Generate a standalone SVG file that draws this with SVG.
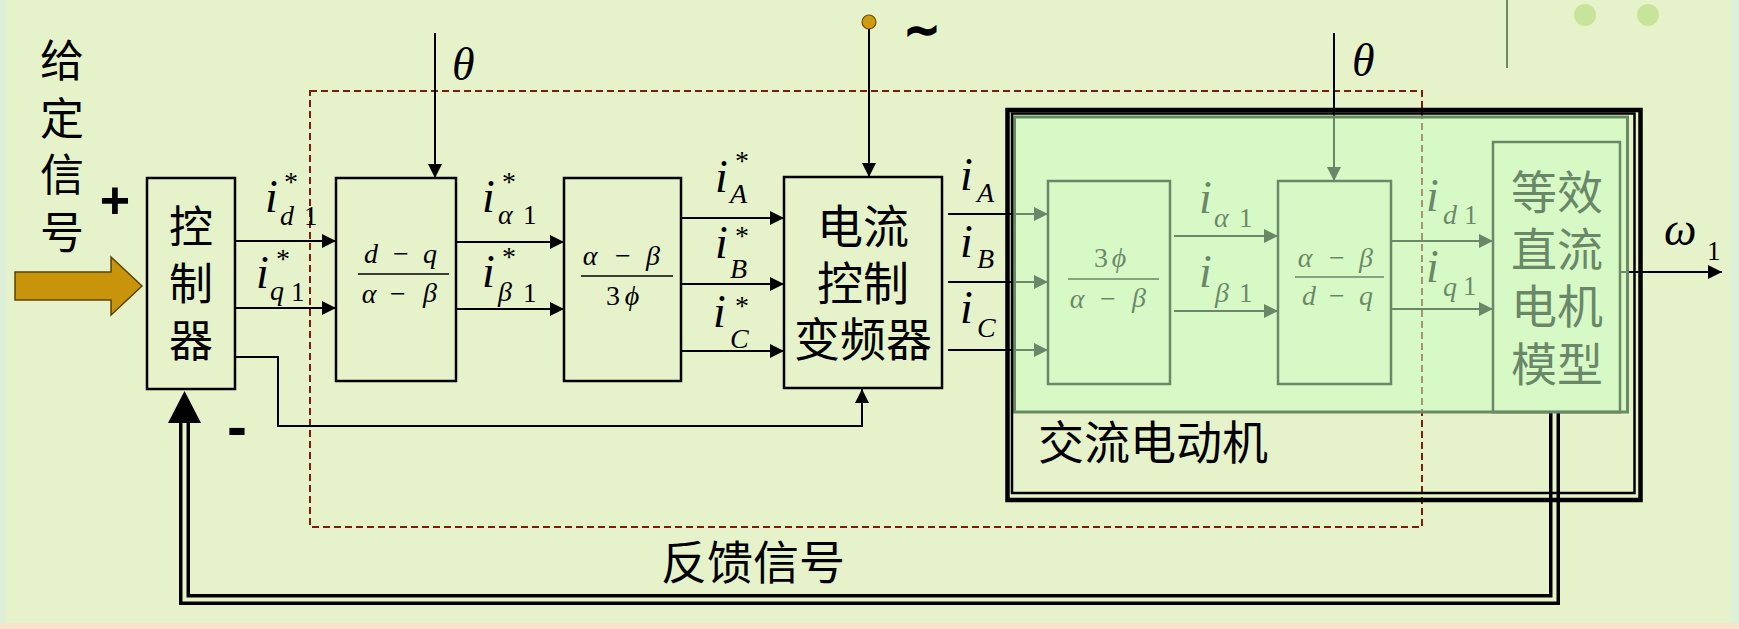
<svg xmlns="http://www.w3.org/2000/svg" width="1739" height="629" viewBox="0 0 1739 629">
<style>
.bx{fill:none;stroke:#000;stroke-width:2.5}
.ln{fill:none;stroke:#000;stroke-width:2}
.cj{font-family:"Liberation Sans","Noto Sans CJK SC","Noto Sans CJK JP",sans-serif;fill:#000}
.mi{font-family:"Liberation Serif","DejaVu Serif",serif;font-style:italic;font-size:46px;fill:#000}
.ms{font-family:"Liberation Serif","DejaVu Serif",serif;font-style:italic;font-size:28px;fill:#000}
.mn{font-family:"Liberation Serif","DejaVu Serif",serif;font-size:27px;fill:#000}
.ast{font-family:"Liberation Serif","DejaVu Serif",serif;font-size:28px;fill:#000}
.fr{font-family:"Liberation Serif","DejaVu Serif",serif;font-size:28px;fill:#000;text-anchor:middle}
.it{font-style:italic}
</style>
<defs>
<marker id="ah" markerUnits="userSpaceOnUse" markerWidth="15" markerHeight="15" refX="14" refY="7" orient="auto"><path d="M0,0 L14,7 L0,14 z" fill="#000"/></marker>
</defs>
<rect x="0" y="0" width="1739" height="629" fill="#E6F3CA"/>
<rect x="0" y="0" width="6" height="629" fill="#DDEFD8"/>
<rect x="1730" y="0" width="9" height="629" fill="#DCF1D6"/>
<rect x="0" y="623" width="1739" height="6" fill="#FAE3CC"/>
<line x1="1507" y1="0" x2="1507" y2="68" stroke="#6E8A60" stroke-width="2"/>
<circle cx="1585" cy="15" r="11" fill="#C9E49A"/>
<circle cx="1648" cy="15" r="11" fill="#C9E49A"/>

<rect x="310" y="91" width="1112" height="436" fill="none" stroke="#7A1F10" stroke-width="2" stroke-dasharray="7 4"/>

<g id="input">
<polygon points="15,272 111,272 111,257 142,286 111,315 111,300 15,300" fill="#C8950A" stroke="#5A4500" stroke-width="1.5"/>
<text class="cj" font-size="44" text-anchor="middle"><tspan x="62" y="77">给</tspan><tspan x="62" y="135">定</tspan><tspan x="62" y="191">信</tspan><tspan x="62" y="249">号</tspan></text>
<text x="115" y="218" font-family="Liberation Sans,sans-serif" font-weight="bold" font-size="52" text-anchor="middle">+</text>
<text x="237" y="447" font-family="Liberation Sans,sans-serif" font-weight="bold" font-size="60" text-anchor="middle">-</text>
</g>

<g id="controller">
<rect class="bx" x="147" y="178" width="88" height="211"/>
<text class="cj" font-size="44" text-anchor="middle"><tspan x="191" y="243">控</tspan><tspan x="191" y="300">制</tspan><tspan x="191" y="357">器</tspan></text>
</g>

<g id="dq2ab">
<rect class="bx" x="336" y="178" width="120" height="203"/>
<text class="fr it" x="371" y="263">d</text><text class="fr" x="401" y="263">−</text><text class="fr it" x="430" y="263">q</text>
<line x1="358" y1="274" x2="449" y2="274" stroke="#000" stroke-width="1.5"/>
<text class="fr it" x="369" y="303">α</text><text class="fr" x="398" y="303">−</text><text class="fr it" x="430" y="302">β</text>
</g>

<g id="ab23">
<rect class="bx" x="564" y="178" width="117" height="203"/>
<text class="fr it" x="590" y="265">α</text><text class="fr" x="623" y="265">−</text><text class="fr it" x="653" y="265">β</text>
<line x1="581" y1="276" x2="673" y2="276" stroke="#000" stroke-width="1.5"/>
<text class="fr" x="613" y="305">3</text><text class="fr it" x="632" y="305">ϕ</text>
</g>

<g id="inverter">
<rect class="bx" x="784" y="177" width="158" height="211"/>
<text class="cj" font-size="46" text-anchor="middle"><tspan x="863" y="243">电流</tspan><tspan x="863" y="300">控制</tspan><tspan x="863" y="356">变频器</tspan></text>
<circle cx="869" cy="22" r="7" fill="#D09A10" stroke="#6B5000" stroke-width="1.2"/>
<text x="922" y="45" font-family="DejaVu Sans,sans-serif" font-weight="bold" font-size="44" text-anchor="middle" stroke="#000" stroke-width="1.5">~</text>
</g>

<g id="motor-inner">
<rect x="1048" y="181" width="122" height="203" fill="none" stroke="#000" stroke-width="2.5"/>
<text class="fr" x="1101" y="267">3</text><text class="fr it" x="1119" y="267">ϕ</text>
<line x1="1068" y1="279" x2="1159" y2="279" stroke="#000" stroke-width="1.5"/>
<text class="fr it" x="1077" y="308">α</text><text class="fr" x="1108" y="308">−</text><text class="fr it" x="1139" y="307">β</text>
<rect x="1278" y="181" width="113" height="203" fill="none" stroke="#000" stroke-width="2.5"/>
<text class="fr it" x="1305" y="267">α</text><text class="fr" x="1337" y="267">−</text><text class="fr it" x="1366" y="267">β</text>
<line x1="1295" y1="277" x2="1384" y2="277" stroke="#000" stroke-width="1.5"/>
<text class="fr it" x="1309" y="305">d</text><text class="fr" x="1337" y="305">−</text><text class="fr it" x="1366" y="305">q</text>
<rect x="1493" y="142" width="127" height="270" fill="none" stroke="#000" stroke-width="2.5"/>
<text class="cj" font-size="46" text-anchor="middle"><tspan x="1557" y="209">等效</tspan><tspan x="1557" y="266">直流</tspan><tspan x="1557" y="323">电机</tspan><tspan x="1557" y="381">模型</tspan></text>
</g>

<g id="connectors">
<line class="ln" x1="235" y1="241" x2="336" y2="241" marker-end="url(#ah)"/>
<line class="ln" x1="235" y1="308" x2="336" y2="308" marker-end="url(#ah)"/>
<path class="ln" d="M235,357 H278 V426 H862 V389" marker-end="url(#ah)"/>
<line class="ln" x1="435" y1="33" x2="435" y2="178" marker-end="url(#ah)"/>
<line class="ln" x1="456" y1="242" x2="564" y2="242" marker-end="url(#ah)"/>
<line class="ln" x1="456" y1="309" x2="564" y2="309" marker-end="url(#ah)"/>
<line class="ln" x1="681" y1="218" x2="784" y2="218" marker-end="url(#ah)"/>
<line class="ln" x1="681" y1="284" x2="784" y2="284" marker-end="url(#ah)"/>
<line class="ln" x1="681" y1="351" x2="784" y2="351" marker-end="url(#ah)"/>
<line class="ln" x1="869" y1="29" x2="869" y2="177" marker-end="url(#ah)"/>
<line class="ln" x1="948" y1="214" x2="1048" y2="214" marker-end="url(#ah)"/>
<line class="ln" x1="948" y1="282" x2="1048" y2="282" marker-end="url(#ah)"/>
<line class="ln" x1="948" y1="350" x2="1048" y2="350" marker-end="url(#ah)"/>
<line class="ln" x1="1174" y1="236" x2="1278" y2="236" marker-end="url(#ah)"/>
<line class="ln" x1="1174" y1="311" x2="1278" y2="311" marker-end="url(#ah)"/>
<line class="ln" x1="1334" y1="33" x2="1334" y2="181" marker-end="url(#ah)"/>
<line class="ln" x1="1391" y1="241" x2="1493" y2="241" marker-end="url(#ah)"/>
<line class="ln" x1="1391" y1="309" x2="1493" y2="309" marker-end="url(#ah)"/>
<line class="ln" x1="1620" y1="272" x2="1722" y2="272" marker-end="url(#ah)"/>
<path d="M1554.5,413 V599.5 H184.5 V423" fill="none" stroke="#000" stroke-width="11"/>
<path d="M1554.5,413 V599.5 H184.5 V423" fill="none" stroke="#E6F3CA" stroke-width="4"/>
<polygon points="184.5,391 168,423 201,423" fill="#000"/>
</g>

<g id="labels">
<text class="mi" x="452" y="80" font-size="50">θ</text>
<text class="mi" x="1352" y="76" font-size="48">θ</text>
<text class="mi" x="265" y="212">i</text><text class="ast" x="291" y="191" text-anchor="middle">*</text><text class="ms" x="280" y="225">d</text><text class="mn" x="304" y="225">1</text>
<text class="mi" x="256" y="288">i</text><text class="ast" x="283" y="268" text-anchor="middle">*</text><text class="ms" x="270" y="300">q</text><text class="mn" x="291" y="301">1</text>
<text class="mi" x="482" y="212">i</text><text class="ast" x="509" y="191" text-anchor="middle">*</text><text class="ms" x="498" y="224">α</text><text class="mn" x="523" y="224">1</text>
<text class="mi" x="482" y="287">i</text><text class="ast" x="509" y="266" text-anchor="middle">*</text><text class="ms" x="498" y="301">β</text><text class="mn" x="523" y="302">1</text>
<text class="mi" x="715" y="192">i</text><text class="ast" x="742" y="170" text-anchor="middle">*</text><text class="ms" x="730" y="203">A</text>
<text class="mi" x="715" y="258">i</text><text class="ast" x="742" y="245" text-anchor="middle">*</text><text class="ms" x="730" y="278">B</text>
<text class="mi" x="713" y="327">i</text><text class="ast" x="742" y="315" text-anchor="middle">*</text><text class="ms" x="730" y="348">C</text>
<text class="mi" x="960" y="190">i</text><text class="ms" x="977" y="202">A</text>
<text class="mi" x="960" y="257">i</text><text class="ms" x="977" y="268">B</text>
<text class="mi" x="960" y="323">i</text><text class="ms" x="977" y="337">C</text>
<text class="mi" x="1199" y="213">i</text><text class="ms" x="1214" y="227">α</text><text class="mn" x="1239" y="227">1</text>
<text class="mi" x="1199" y="287">i</text><text class="ms" x="1215" y="302">β</text><text class="mn" x="1239" y="302">1</text>
<text class="mi" x="1426" y="211">i</text><text class="ms" x="1443" y="224">d</text><text class="mn" x="1464" y="224">1</text>
<text class="mi" x="1426" y="282">i</text><text class="ms" x="1443" y="296">q</text><text class="mn" x="1463" y="295">1</text>
<text class="mi" x="1664" y="245" font-size="52">ω</text><text class="mn" x="1707" y="260">1</text>
</g>

<g id="motor">
<rect x="1013" y="116" width="616" height="297" fill="#C8FFC3" fill-opacity="0.53"/>
<rect x="1014.5" y="117" width="613" height="295" fill="none" stroke="#6A8A64" stroke-width="3"/>
<rect x="1012" y="113.5" width="622.5" height="379.5" fill="none" stroke="#000" stroke-width="2.5"/>
<rect x="1007.5" y="110" width="633" height="390" fill="none" stroke="#000" stroke-width="4.5"/>
<text class="cj" font-size="46" text-anchor="middle" x="1153" y="459">交流电动机</text>
</g>

<g id="feedback">
<text class="cj" font-size="46" text-anchor="middle" x="753" y="579">反馈信号</text>
</g>
</svg>
